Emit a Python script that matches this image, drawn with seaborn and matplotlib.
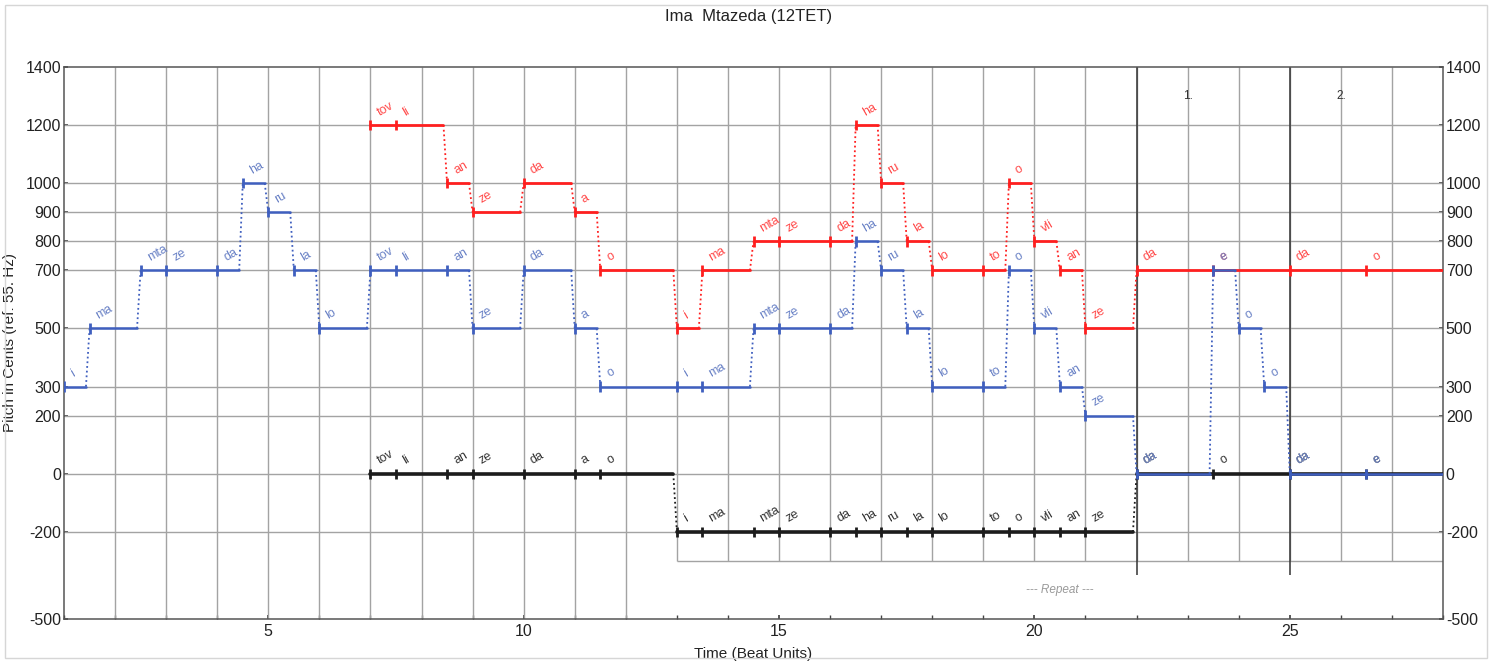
import matplotlib
matplotlib.use("Agg")
import matplotlib.pyplot as plt
import pandas as pd
import seaborn as sns
from matplotlib.patches import Rectangle

# ===============================
# DATA
# ===============================

END_TIME = 28
GAP = 0.07  # segment stops a bit before the next note

blue_start = [1, 1.5, 2.5, 3, 4, 4.5, 5, 5.5, 6,
              7, 7.5, 8.5, 9, 10, 11, 11.5,
              13, 13.5, 14.5, 15, 16, 16.5, 17, 17.5, 18, 19, 19.5, 20, 20.5, 21,
              22, 23.5, 24, 24.5, 25, 26.5]
blue_cents = [300, 500, 700, 700, 700, 1000, 900, 700, 500,
              700, 700, 700, 500, 700, 500, 300,
              300, 300, 500, 500, 500, 800, 700, 500, 300, 300, 700, 500, 300, 200,
              0, 700, 500, 300, 0, 0]
blue_syl = ["i", "ma", "mta", "ze", "da", "ha", "ru", "la", "lo",
            "tov", "li", "an", "ze", "da", "a", "o",
            "i", "ma", "mta", "ze", "da", "ha", "ru", "la", "lo", "to", "o", "vli", "an", "ze",
            "da", "e", "o", "o", "da", "e"]

red_start = [7, 7.5, 8.5, 9, 10, 11, 11.5,
             13, 13.5, 14.5, 15, 16, 16.5, 17, 17.5, 18, 19, 19.5, 20, 20.5, 21,
             22, 23.5, 25, 26.5]
red_cents = [1200, 1200, 1000, 900, 1000, 900, 700,
             500, 700, 800, 800, 800, 1200, 1000, 800, 700, 700, 1000, 800, 700, 500,
             700, 700, 700, 700]
red_syl = ["tov", "li", "an", "ze", "da", "a", "o",
           "i", "ma", "mta", "ze", "da", "ha", "ru", "la", "lo", "to", "o", "vli", "an", "ze",
           "da", "e", "da", "o"]

black_start = [7, 7.5, 8.5, 9, 10, 11, 11.5,
               13, 13.5, 14.5, 15, 16, 16.5, 17, 17.5, 18, 19, 19.5, 20, 20.5, 21,
               22, 23.5, 25, 26.5]
black_cents = [0, 0, 0, 0, 0, 0, 0,
               -200, -200, -200, -200, -200, -200, -200, -200, -200, -200, -200, -200, -200, -200,
               0, 0, 0, 0]
black_syl = ["tov", "li", "an", "ze", "da", "a", "o",
             "i", "ma", "mta", "ze", "da", "ha", "ru", "la", "lo", "to", "o", "vli", "an", "ze",
             "da", "o", "da", "e"]

y_ticks = [1400, 1200, 1000, 900, 800, 700, 500, 300, 200, 0, -200, -500]
x_ticks = [5, 10, 15, 20, 25]
volta_x = [22, 25]
volta_labels = ["1.", "2."]
volta_label_x = [23, 26]
repeat_start = 13

# ===============================
# FIGURE
# ===============================

sns.set_theme(style="white")
plt.rcParams['font.family'] = ['Liberation Sans', 'DejaVu Sans']
plt.rcParams['axes.unicode_minus'] = False

fig = plt.figure(figsize=(14.98, 6.62), dpi=100)
ax = fig.add_axes([64 / 1498, 1 - 619 / 662, (1443 - 64) / 1498, (619 - 67) / 662])
ax.set_xlim(1, END_TIME)
ax.set_ylim(-500, 1400)

GRID = "#a3a3a3"

# grid: vertical lines stop at -300 inside the repeat section
for x in range(2, END_TIME):
    ax.vlines(x, -300 if x >= repeat_start else -500, 1400, color=GRID, lw=1, zorder=1)
for y in y_ticks[1:-1]:
    ax.hlines(y, 1, END_TIME, color=GRID, lw=1, zorder=1)
ax.hlines(-300, repeat_start, END_TIME, color=GRID, lw=1, zorder=1)

# volta brackets
ax.vlines(volta_x, -350, 1400, color="#333333", lw=1.1, zorder=2)
for vx, vl in zip(volta_label_x, volta_labels):
    ax.text(vx, 1300, vl, fontsize=8.5, color="#333333", ha="center", va="center")
ax.text(20.5, -400, "--- Repeat ---", fontsize=8.5, color="#9a9a9a",
        style="italic", ha="center", va="center")


def draw_voice(starts, cents, syls, line_c, text_c, z, lw=2):
    ends = starts[1:] + [END_TIME]
    rows = []
    for i, (s, e, c) in enumerate(zip(starts, ends, cents)):
        stop = e
        if i < len(starts) - 1 and cents[i + 1] != c:
            stop = e - GAP
        rows.append(dict(seg=i, t=s, cents=c))
        rows.append(dict(seg=i, t=stop, cents=c))
    seg = pd.DataFrame(rows)
    sns.lineplot(data=seg, x="t", y="cents", units="seg", estimator=None,
                 color=line_c, lw=lw, ax=ax, legend=False, zorder=z)

    # dotted connectors between pitch changes
    for i in range(len(starts) - 1):
        if cents[i + 1] != cents[i]:
            ax.plot([starts[i + 1] - GAP, starts[i + 1]], [cents[i], cents[i + 1]],
                    ls=(0, (1, 1.6)), lw=1.3, color=line_c, zorder=z)

    # onset ticks
    ax.vlines(starts, [c - 18 for c in cents], [c + 18 for c in cents],
              color=line_c, lw=2, zorder=z)

    # syllables
    for s, c, t in zip(starts, cents, syls):
        ax.text(s + 0.09, c + 24, t, rotation=30, fontsize=9, color=text_c,
                ha="left", va="bottom", zorder=z + 1)


draw_voice(black_start, black_cents, black_syl, "#1c1c1c", "#333333", 4, lw=2.6)
draw_voice(red_start, red_cents, red_syl, "#ff1f1f", "#ff4a4a", 5)
draw_voice(blue_start, blue_cents, blue_syl, "#3f5fbf", "#6a82c6", 6, lw=1.8)

# axes styling
ax.set_xticks(x_ticks)
ax.set_xticks(range(1, END_TIME + 1), minor=True)
ax.set_yticks(y_ticks)
ax.tick_params(axis="x", which="both", direction="in", length=3, labelsize=11.5,
               colors="#444444", labelcolor="#222222", bottom=True)
ax.tick_params(axis="y", direction="in", length=3, labelsize=11.5,
               left=True, right=True, labelright=True,
               colors="#444444", labelcolor="#222222", pad=2)
for sp in ax.spines.values():
    sp.set_color("#555555")
    sp.set_linewidth(1.1)

ax.set_xlabel("Time (Beat Units)", fontsize=11, color="#222222", labelpad=6)
ax.set_ylabel("Pitch in Cents (ref: 55. Hz)", fontsize=11, color="#222222", labelpad=6)

fig.text(0.5, 1 - 16 / 662, "Ima  Mtazeda (12TET)", fontsize=12, color="#222222",
         ha="center", va="center")

fig.patches.append(Rectangle((5 / 1498, 4 / 662), 1482 / 1498, 653 / 662,
                             transform=fig.transFigure, fill=False,
                             edgecolor="#d6d6d6", lw=1))

fig.savefig("out.png", dpi=100)
